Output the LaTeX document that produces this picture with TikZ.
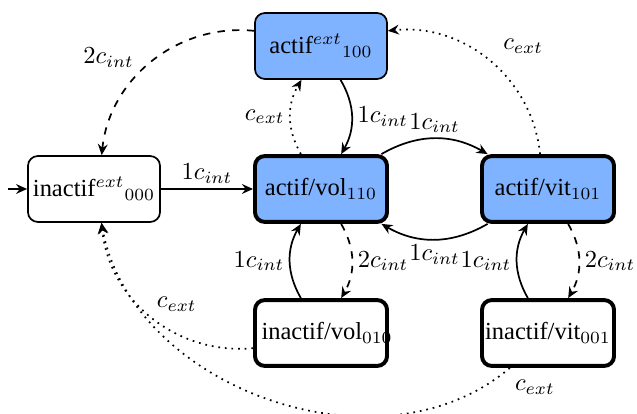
\documentclass[tikz,border=0pt]{standalone}
\usepackage[no-math]{fontspec}
\setmainfont{Liberation Serif}
\usetikzlibrary{arrows.meta}
\definecolor{actblue}{RGB}{128,179,255}
\newcommand\fixw[1]{\makebox[0pt]{#1}}
\begin{document}
\begin{tikzpicture}[x=0.4082pt,y=-0.4082pt,
  state/.style={draw, rounded corners=4pt, minimum width=53.9pt, minimum height=26.9pt, inner sep=0pt, line width=0.7pt},
  actstate/.style={state, fill=actblue},
  heavy/.style={line width=1.6pt},
  tr/.style={line width=0.7pt, -{Stealth[length=4.5pt,width=4pt,inset=1.5pt]}},
  lbl/.style={inner sep=2pt}
]
\useasboundingbox (0,0) rectangle (637,414);
\node[state] (i000) at (94,189) {\fixw{inactif$^{ext}$$_{000}$}};
\node[actstate] (a100) at (321,46) {\fixw{actif$^{ext}$$_{100}$}};
\node[actstate,heavy] (v110) at (321,189) {\fixw{actif/vol$_{110}$}};
\node[actstate,heavy] (t101) at (548,189) {\fixw{actif/vit$_{101}$}};
\node[state,heavy] (iv010) at (321,333) {\fixw{\hspace{5pt}inactif/vol$_{010}$}};
\node[state,heavy] (it001) at (548,333) {\fixw{inactif/vit$_{001}$}};
\coordinate (init) at (8,189);

\draw[tr] (init) -- (i000);
\draw[tr] (i000) -- node[lbl,above] {$1c_{int}$} (v110);
\draw[tr,dashed] (a100) to[bend right=45] node[lbl,auto,swap,pos=0.58] {$2c_{int}$} (i000);
\draw[tr,dotted] (t101) to[bend right=45] node[lbl,auto,swap,pos=0.45,yshift=3.5pt] {$c_{ext}$} (a100);
\draw[tr,dotted] (v110) to[bend left=30] node[lbl,auto] {$c_{ext}$} (a100);
\draw[tr] (a100) to[bend left=30] node[lbl,auto] {$1c_{int}$} (v110);
\draw[tr] (v110) to[bend left=30] node[lbl,auto] {$1c_{int}$} (t101);
\draw[tr] (t101) to[bend left=30] node[lbl,auto] {$1c_{int}$} (v110);
\draw[tr,dashed] (v110) to[bend left=30] node[lbl,auto] {$2c_{int}$} (iv010);
\draw[tr] (iv010) to[bend left=30] node[lbl,auto] {$1c_{int}$} (v110);
\draw[tr,dashed] (t101) to[bend left=30] node[lbl,auto] {$2c_{int}$} (it001);
\draw[tr] (it001) to[bend left=30] node[lbl,auto] {$1c_{int}$} (t101);
\draw[tr,dotted] (iv010) to[bend left=45] node[lbl,auto,swap] {$c_{ext}$} (i000);
\draw[tr,dotted] (it001) to[bend left=60] node[lbl,auto,pos=0.02,xshift=3pt] {$c_{ext}$} (i000);
\end{tikzpicture}
\end{document}
